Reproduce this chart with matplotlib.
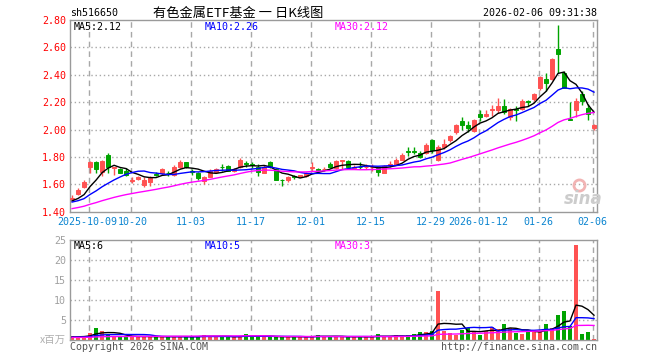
import numpy as np
import pandas as pd
import matplotlib.pyplot as plt

# Fonts: mono for the numbers, CJK fallback for the title
plt.rcParams['font.family'] = ['DejaVu Sans Mono', 'Noto Sans CJK SC']

# ---------------- Data ----------------
code = 'sh516650'
title = '有色金属ETF基金 一 日K线图'
stamp = '2026-02-06 09:31:38'

tick_idx = [3, 10, 20, 30, 40, 50, 60, 68, 78, 87]
tick_lbl = ['2025-10-09', '10-20', '11-03', '11-17', '12-01',
            '12-15', '12-29', '2026-01-12', '01-26', '02-06']

open_p = [1.49, 1.53, 1.58, 1.73, 1.765, 1.69, 1.815, 1.72, 1.71, 1.70,
          1.625, 1.64, 1.595, 1.62, 1.675, 1.68, 1.685, 1.67, 1.73, 1.76,
          1.695, 1.685, 1.625, 1.655, 1.69, 1.73, 1.735, 1.70, 1.73, 1.755,
          1.745, 1.73, 1.685, 1.76, 1.71, 1.635, 1.63, 1.66, 1.655, 1.66,
          1.72, 1.71, 1.71, 1.75, 1.72, 1.77, 1.77, 1.72, 1.73, 1.725,
          1.725, 1.72, 1.685, 1.74, 1.74, 1.78, 1.84, 1.84, 1.83, 1.83,
          1.92, 1.78, 1.87, 1.92, 1.98, 2.06, 2.03, 1.99, 2.115, 2.10,
          2.14, 2.14, 2.17, 2.09, 2.15, 2.15, 2.21, 2.22, 2.30, 2.37,
          2.366, 2.587, 2.415, 2.08, 2.146, 2.26, 2.16, 2.01]
high_p = [1.52, 1.57, 1.63, 1.77, 1.77, 1.78, 1.83, 1.73, 1.72, 1.72,
          1.65, 1.66, 1.65, 1.66, 1.69, 1.72, 1.70, 1.74, 1.78, 1.765,
          1.71, 1.69, 1.66, 1.71, 1.72, 1.75, 1.74, 1.72, 1.79, 1.77,
          1.76, 1.75, 1.74, 1.77, 1.72, 1.64, 1.66, 1.67, 1.67, 1.69,
          1.76, 1.72, 1.73, 1.76, 1.78, 1.78, 1.775, 1.74, 1.76, 1.75,
          1.75, 1.72, 1.74, 1.77, 1.79, 1.83, 1.87, 1.87, 1.84, 1.90,
          1.93, 1.89, 1.93, 1.96, 2.04, 2.09, 2.06, 2.08, 2.14, 2.14,
          2.18, 2.23, 2.22, 2.16, 2.17, 2.22, 2.215, 2.27, 2.39, 2.415,
          2.525, 2.76, 2.43, 2.20, 2.23, 2.28, 2.19, 2.04]
low_p = [1.48, 1.52, 1.57, 1.685, 1.68, 1.66, 1.68, 1.67, 1.68, 1.66,
         1.61, 1.63, 1.58, 1.59, 1.66, 1.67, 1.66, 1.66, 1.72, 1.72,
         1.67, 1.63, 1.60, 1.65, 1.68, 1.70, 1.70, 1.69, 1.72, 1.73,
         1.72, 1.66, 1.68, 1.72, 1.63, 1.59, 1.62, 1.64, 1.65, 1.65,
         1.70, 1.70, 1.70, 1.72, 1.71, 1.71, 1.72, 1.71, 1.71, 1.71,
         1.70, 1.66, 1.68, 1.73, 1.74, 1.78, 1.81, 1.82, 1.79, 1.82,
         1.83, 1.77, 1.86, 1.91, 1.97, 2.00, 1.98, 1.98, 2.06, 2.09,
         2.10, 2.12, 2.11, 2.07, 2.06, 2.14, 2.17, 2.21, 2.29, 2.28,
         2.36, 2.415, 2.30, 2.07, 2.09, 2.18, 2.07, 2.00]
close_p = [1.50, 1.56, 1.62, 1.765, 1.71, 1.77, 1.725, 1.725, 1.685, 1.67,
           1.63, 1.655, 1.635, 1.655, 1.67, 1.71, 1.68, 1.73, 1.76, 1.73,
           1.69, 1.645, 1.655, 1.70, 1.71, 1.725, 1.70, 1.71, 1.78, 1.75,
           1.74, 1.69, 1.73, 1.73, 1.63, 1.63, 1.65, 1.655, 1.665, 1.68,
           1.725, 1.705, 1.715, 1.73, 1.77, 1.775, 1.725, 1.73, 1.725, 1.73,
           1.73, 1.69, 1.735, 1.75, 1.78, 1.815, 1.835, 1.835, 1.80, 1.89,
           1.85, 1.87, 1.895, 1.95, 2.03, 2.035, 2.01, 2.07, 2.09, 2.11,
           2.15, 2.17, 2.13, 2.15, 2.145, 2.21, 2.20, 2.256, 2.385, 2.34,
           2.518, 2.55, 2.305, 2.07, 2.207, 2.207, 2.115, 2.035]
# volume, millions
volume = [1.0, 0.8, 1.0, 1.7, 3.1, 2.3, 1.2, 0.9, 0.9, 0.9,
          0.9, 0.8, 0.9, 0.8, 0.8, 0.9, 0.8, 0.9, 0.8, 0.8,
          0.8, 0.9, 1.3, 0.8, 0.8, 0.9, 0.8, 0.8, 0.9, 1.5,
          0.9, 0.9, 0.8, 0.8, 0.9, 0.8, 0.8, 0.8, 0.8, 0.8,
          0.9, 1.3, 0.8, 0.8, 0.9, 0.8, 0.8, 0.8, 0.8, 0.8,
          0.8, 1.5, 0.8, 0.8, 1.2, 0.8, 1.2, 1.4, 2.0, 2.0,
          2.25, 12.25, 2.25, 1.7, 1.25, 2.5, 3.1, 2.25, 1.25, 2.25,
          3.3, 2.7, 3.9, 2.9, 1.8, 1.5, 2.5, 2.1, 2.1, 3.9,
          2.9, 6.25, 7.25, 3.5, 23.75, 1.5, 2.0, 0.25]

# sessions before the window, only used to start the moving averages
hist_close = [1.32, 1.33, 1.34, 1.35, 1.35, 1.36, 1.36, 1.37, 1.38, 1.39,
              1.41, 1.42, 1.43, 1.44, 1.45, 1.45, 1.44, 1.45, 1.46, 1.47,
              1.46, 1.47, 1.46, 1.45, 1.47, 1.47, 1.48, 1.47, 1.475]
hist_vol = [0.6, 0.5, 0.7, 0.6, 0.6, 0.5, 0.6, 0.7, 0.6, 0.5,
            0.6, 0.7, 0.6, 0.6, 0.5, 0.6, 0.7, 0.6, 0.6, 0.5,
            0.6, 0.7, 0.6, 0.6, 0.7, 0.6, 0.7, 0.8, 0.7]

ma_txt = ['MA5:2.12', 'MA10:2.26', 'MA30:2.12']
vma_txt = ['MA5:6', 'MA10:5', 'MA30:3']

# ---------------- Moving averages ----------------
nh = len(hist_close)
cs = pd.Series(hist_close + close_p)
vs = pd.Series(hist_vol + volume)
ma = [cs.rolling(n).mean().values[nh:] for n in (5, 10, 30)]
vma = [vs.rolling(n).mean().values[nh:] for n in (5, 10, 30)]

# ---------------- Figure ----------------
W, H = 660, 360
fig = plt.figure(figsize=(W / 100, H / 100), dpi=100)

def px_axes(x0, y0, x1, y1):
    return fig.add_axes([x0 / W, 1 - y1 / H, (x1 - x0) / W, (y1 - y0) / H])

def fig_text(x, y, s, **kw):
    fig.text(x / W, 1 - y / H, s, **kw)

ax = px_axes(70, 20, 597, 211.7)
axv = px_axes(70, 240, 597, 340)

x = np.arange(len(close_p))
o = np.array(open_p)
c = np.array(close_p)
up = c >= o
cols = np.where(up, '#ff5252', '#00a400')
ma_cols = ['black', '#0000ff', '#ff00ff']
grid_c = '#a8a8a8'
fs = 7.2

for a in (ax, axv):
    a.set_xlim(-0.35, 87.5)
    for s in a.spines.values():
        s.set_color('#9a9a9a')
        s.set_linewidth(1.0)
    for t in tick_idx:
        a.axvline(t - 0.25, color=grid_c, lw=1.0, ls=(0, (4, 3)), zorder=0)
    a.tick_params(length=0)

# candles
ax.vlines(x, low_p, high_p, colors=cols, lw=1.0, zorder=2)
ax.bar(x, c - o, bottom=o, width=0.75, color=cols, edgecolor=cols,
       linewidth=0.7, zorder=3)
for m, col in zip(ma, ma_cols):
    ax.plot(x, m, color=col, lw=1.0, zorder=4)

ax.set_ylim(1.40, 2.80)
ax.set_yticks(np.arange(1.40, 2.81, 0.20))
ax.set_yticklabels(['%.2f' % v for v in np.arange(1.40, 2.81, 0.20)],
                   color='#ff0000', fontsize=fs)
for v in np.arange(1.60, 2.70, 0.20):
    ax.axhline(v, color=grid_c, lw=1.0, ls=(0, (1, 2)), zorder=0)
ax.set_xticks([])
ax.tick_params(axis='y', pad=3)

# date labels under the price panel; the first two just touch, as in the original
shift = [-1.2, 1.6] + [0] * (len(tick_idx) - 2)
for t, lbl, dx in zip(tick_idx, tick_lbl, shift):
    ax.annotate(lbl, (t - 0.25, 0), xycoords=('data', 'axes fraction'),
                xytext=(dx, -3.5), textcoords='offset points',
                ha='center', va='top', color='#0a84d0', fontsize=fs,
                annotation_clip=False)

# volume
axv.bar(x, volume, width=0.8, color=cols, zorder=2)
for m, col in zip(vma, ma_cols):
    axv.plot(x, m, color=col, lw=1.0, zorder=4)
axv.set_ylim(0, 25)
axv.set_yticks([5, 10, 15, 20, 25])
axv.set_yticklabels(['5', '10', '15', '20', '25'], color='#a0a0a0',
                    fontsize=fs)
for v in [5, 10, 15, 20]:
    axv.axhline(v, color=grid_c, lw=1.0, ls=(0, (1, 2)), zorder=0)
axv.set_xticks([])
axv.tick_params(axis='y', pad=3)

# header texts
fig_text(70, 13, code, fontsize=fs, va='center')
fig_text(238, 13, title, fontsize=9.5, va='center', ha='center',
         family=['Noto Sans CJK SC', 'DejaVu Sans'])
fig_text(597, 13, stamp, fontsize=fs, va='center', ha='right')

# MA labels
for xx, s, col in zip([74, 205, 335], ma_txt, ma_cols):
    fig_text(xx, 27, s, fontsize=fs, va='center', color=col)
for xx, s, col in zip([74, 205, 335], vma_txt, ma_cols):
    fig_text(xx, 246, s, fontsize=fs, va='center', color=col)

# footer
fig_text(66, 340, 'x百万', fontsize=7.5, va='center', ha='right',
         color='#b0b0b0', family=['Noto Sans CJK SC', 'DejaVu Sans'])
fig_text(70, 347, 'Copyright 2026 SINA.COM', fontsize=fs, va='center',
         color='#555555')
fig_text(597, 347, 'http://finance.sina.com.cn', fontsize=fs, va='center',
         ha='right', color='#555555')

# sina watermark
ax.plot([0.965], [0.14], 'o', ms=8, mfc='none', mec='#f2b4b4', mew=2,
        transform=ax.transAxes, clip_on=False, zorder=1)
fig_text(583, 199, 'sina', fontsize=12, fontweight='bold', style='italic',
         ha='center', va='center', color='#cccccc', family='DejaVu Sans')

fig.savefig('out.png', dpi=100)
